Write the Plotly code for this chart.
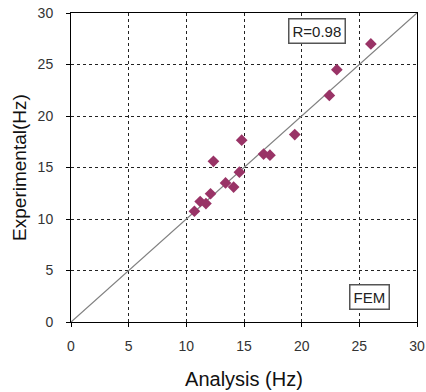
import plotly.graph_objects as go

analysis = [10.7, 11.2, 11.7, 12.1, 12.35, 13.4, 14.1, 14.6, 14.8, 16.7, 17.25, 19.4, 22.4, 23.05, 26.0]
experimental = [10.75, 11.7, 11.5, 12.45, 15.6, 13.5, 13.1, 14.55, 17.65, 16.3, 16.2, 18.2, 22.0, 24.5, 27.0]
ref_line = [0, 30]
ticks = [0, 5, 10, 15, 20, 25, 30]

FONT = "Liberation Sans, Arial"

fig = go.Figure()
fig.add_trace(go.Scatter(x=ref_line, y=ref_line, mode="lines",
                         line=dict(color="#808080", width=1.3), showlegend=False))
fig.add_trace(go.Scatter(x=analysis, y=experimental, mode="markers",
                         marker=dict(symbol="diamond", size=9, color="#993366"),
                         showlegend=False))

axis_common = dict(range=[0, 30], tickvals=ticks, showgrid=True, gridcolor="#222",
                   griddash="3px,3px", gridwidth=1, showline=True, linecolor="black",
                   linewidth=1, mirror=True, ticks="outside", ticklen=4,
                   tickcolor="black", zeroline=False, automargin=False,
                   tickfont=dict(family=FONT, size=14, color="#333"))

fig.update_layout(
    width=426, height=392,
    margin=dict(l=71, r=9, t=13, b=70),
    plot_bgcolor="white", paper_bgcolor="white",
    xaxis=dict(**axis_common, ticklabelstandoff=7,
               title=dict(text="Analysis (Hz)", standoff=19,
                          font=dict(family=FONT, size=20, color="#111"))),
    yaxis=dict(**axis_common, ticklabelstandoff=10,
               title=dict(text="Experimental(Hz)", standoff=5,
                          font=dict(family=FONT, size=19, color="#111"))),
    annotations=[
        dict(x=21.3, y=28.25, xref="x", yref="y", text="R=0.98", showarrow=False,
             font=dict(family=FONT, size=15, color="#222"),
             bordercolor="#555", borderwidth=1.5, borderpad=3, bgcolor="white"),
        dict(x=25.9, y=2.45, xref="x", yref="y", text="FEM", showarrow=False,
             font=dict(family=FONT, size=15, color="#222"),
             bordercolor="#555", borderwidth=1.5, borderpad=3, bgcolor="white"),
    ],
)

fig.write_html("out.html")
